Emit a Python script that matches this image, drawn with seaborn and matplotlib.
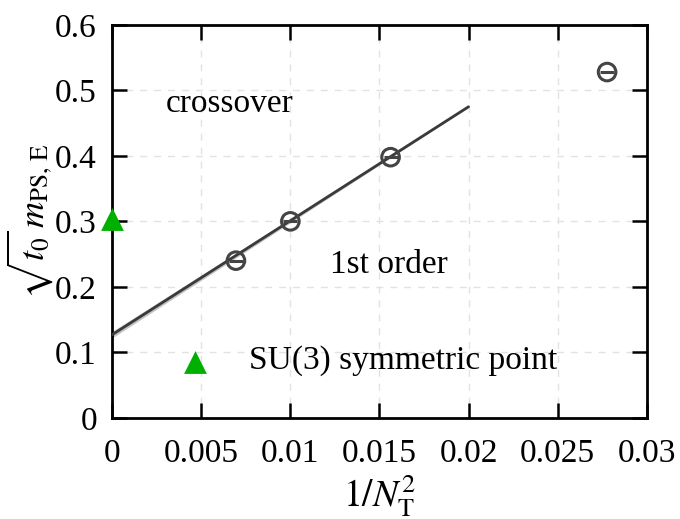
import numpy as np
import pandas as pd
import matplotlib
matplotlib.use("Agg")
import matplotlib.pyplot as plt
import seaborn as sns

# data
inv_nt2 = [1 / 144, 1 / 100, 1 / 64, 1 / 36]
mass = [0.240, 0.300, 0.398, 0.528]
fit_x = [0.0, 0.02]
fit_y = [0.127, 0.475]
fit_lo = [0.122, 0.474]
fit_hi = [0.132, 0.476]
su3_x = [0.0]
su3_y = [0.303]
legend_x = [0.00465]
legend_y = [0.085]

xticks = [0, 0.005, 0.01, 0.015, 0.02, 0.025, 0.03]
xticklabels = ["0", "0.005", "0.01", "0.015", "0.02", "0.025", "0.03"]
yticks = [0, 0.1, 0.2, 0.3, 0.4, 0.5, 0.6]
yticklabels = ["0", "0.1", "0.2", "0.3", "0.4", "0.5", "0.6"]

sns.set_style("ticks")
plt.rcParams['font.family'] = ['Liberation Serif', 'DejaVu Serif']
plt.rcParams['mathtext.fontset'] = 'stix'
plt.rcParams['text.color'] = 'black'
plt.rcParams['axes.labelcolor'] = 'black'
plt.rcParams['xtick.color'] = 'black'
plt.rcParams['ytick.color'] = 'black'

fig = plt.figure(figsize=(6.8, 5.19), dpi=100)
ax = fig.add_axes([0.165, 0.195, 0.786, 0.757])

pts = pd.DataFrame({"x": inv_nt2, "y": mass})
fit = pd.DataFrame({"x": fit_x, "y": fit_y})

# fit line with its narrow band
ax.fill_between(fit_x, fit_lo, fit_hi, color="#888888", alpha=0.5, lw=0, zorder=2)
sns.lineplot(data=fit, x="x", y="y", ax=ax, color="#3a3a3a", lw=2, zorder=3)

# lattice points: open circles with a bar through them
sns.scatterplot(data=pts, x="x", y="y", ax=ax, marker="o", s=160,
                facecolor="none", edgecolor="#444444", linewidth=2.2, zorder=4)
sns.scatterplot(data=pts, x="x", y="y", ax=ax, marker="_", s=100,
                color="#444444", linewidth=2.2, zorder=4)

# SU(3) symmetric point and its key
ax.scatter(su3_x, su3_y, marker="^", s=270, color="#00b000", lw=0,
           zorder=5, clip_on=False)
ax.scatter(legend_x, legend_y, marker="^", s=270, color="#00b000", lw=0, zorder=5)
ax.text(0.0077, 0.088, "SU(3) symmetric point", fontsize=24, va="center")

ax.text(0.003, 0.48, "crossover", fontsize=24, va="center")
ax.text(0.0122, 0.234, "1st order", fontsize=24, va="center")

ax.set_xlim(0, 0.03)
ax.set_ylim(0, 0.6)
ax.set_xticks(xticks)
ax.set_xticklabels(xticklabels)
ax.set_yticks(yticks)
ax.set_yticklabels(yticklabels)
ax.tick_params(direction="in", length=11, width=1.8, labelsize=24,
               top=True, right=True)
ax.tick_params(axis="x", pad=15)
ax.tick_params(axis="y", pad=11)
ax.grid(True, ls=(0, (5, 5)), color="#e2e2e2", lw=1)
ax.set_axisbelow(True)
for sp in ax.spines.values():
    sp.set_linewidth(2)
    sp.set_color("black")

ax.set_xlabel(r"$1/N_{\rm T}^2$", fontsize=27, labelpad=2)
ax.set_ylabel(r"$\sqrt{t_0}\,m_{\rm PS,\,E}$", fontsize=26, labelpad=0)

fig.savefig("out.png", dpi=100)
